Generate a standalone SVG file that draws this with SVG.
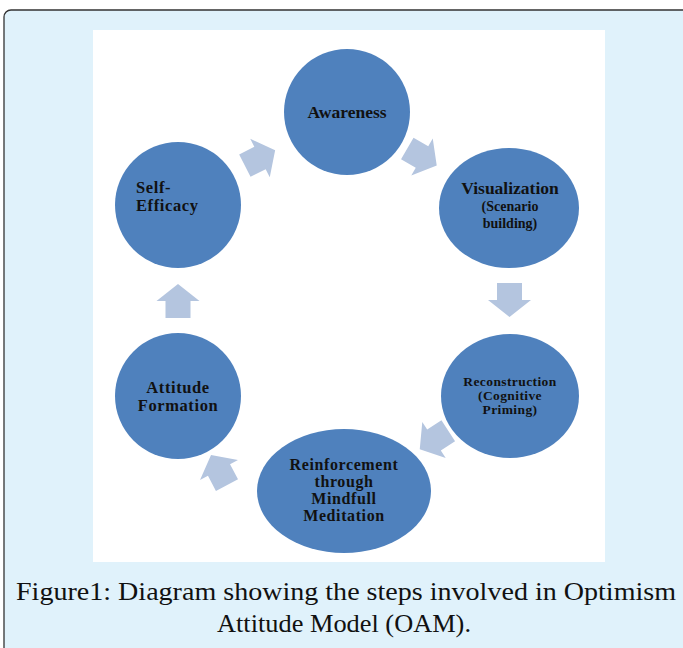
<svg xmlns="http://www.w3.org/2000/svg" width="683" height="648" viewBox="0 0 683 648">
<defs>
<style>
.node{fill:#4F81BD}
.arr{fill:#B4C5DF}
.lb{font-family:"Liberation Serif","Times New Roman",serif;font-weight:bold;fill:#111;text-anchor:middle}
.big{font-size:17.5px}
.mid{font-size:16px;letter-spacing:0.6px}
.md2{font-size:16.5px;letter-spacing:0.6px}
.sm{font-size:14px}
.xs{font-size:13.5px;letter-spacing:0.4px}
.cap{font-family:"Liberation Serif","Times New Roman",serif;font-size:26px;fill:#111;text-anchor:middle}
</style>
<path id="ba" d="M-17,-12.5 L0,-12.5 L0,-21.5 L17,0 L0,21.5 L0,12.5 L-17,12.5 Z"/>
</defs>
<rect x="4" y="10" width="700" height="660" rx="7" fill="#E0F2FB" stroke="#333" stroke-width="1.3"/>
<rect x="93" y="30" width="512" height="532" fill="#FFFFFF"/>
<g id="connectors">
<use href="#ba" class="arr" transform="translate(260,158) rotate(-27)"/>
<use href="#ba" class="arr" transform="translate(422,157) rotate(30)"/>
<use href="#ba" class="arr" transform="translate(509.5,300) rotate(90)"/>
<use href="#ba" class="arr" transform="translate(434,440) rotate(147)"/>
<use href="#ba" class="arr" transform="translate(219,470) rotate(-118)"/>
<use href="#ba" class="arr" transform="translate(178,301) rotate(-90)"/>
</g>
<g id="awareness">
<ellipse class="node" cx="347" cy="112" rx="63" ry="63"/>
<text class="lb big" x="347" y="118">Awareness</text>
</g>
<g id="visualization">
<ellipse class="node" cx="509" cy="208" rx="70" ry="60"/>
<text class="lb big" x="510" y="194">Visualization</text>
<text class="lb sm" x="510" y="211">(Scenario</text>
<text class="lb sm" x="510" y="228">building)</text>
</g>
<g id="reconstruction">
<ellipse class="node" cx="510" cy="396" rx="69" ry="62"/>
<text class="lb xs" x="510" y="386">Reconstruction</text>
<text class="lb xs" x="510" y="400">(Cognitive</text>
<text class="lb xs" x="510" y="414">Priming)</text>
</g>
<g id="reinforcement">
<ellipse class="node" cx="344" cy="491" rx="87" ry="62"/>
<text class="lb mid" x="344" y="470">Reinforcement</text>
<text class="lb mid" x="344" y="487">through</text>
<text class="lb mid" x="344" y="504">Mindfull</text>
<text class="lb mid" x="344" y="521">Meditation</text>
</g>
<g id="attitude-formation">
<ellipse class="node" cx="178" cy="396" rx="63" ry="63"/>
<text class="lb md2" x="178" y="393">Attitude</text>
<text class="lb md2" x="178" y="411">Formation</text>
</g>
<g id="self-efficacy">
<ellipse class="node" cx="178" cy="205" rx="63" ry="63"/>
<text class="lb md2" x="136" y="193" style="text-anchor:start">Self-</text>
<text class="lb md2" x="136" y="211" style="text-anchor:start">Efficacy</text>
</g>
<text class="cap" x="346" y="600" textLength="660" lengthAdjust="spacingAndGlyphs">Figure1: Diagram showing the steps involved in Optimism</text>
<text class="cap" x="344" y="632" textLength="254" lengthAdjust="spacingAndGlyphs">Attitude Model (OAM).</text>
</svg>
